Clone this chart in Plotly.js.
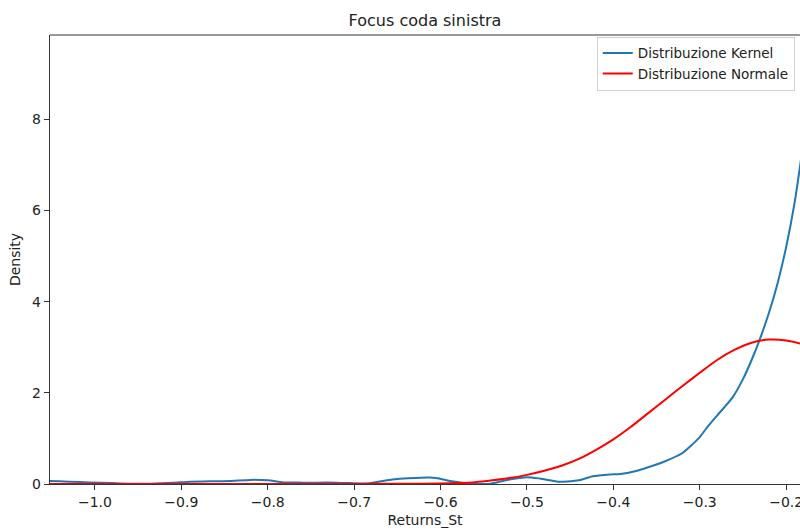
<!DOCTYPE html>
<html>
<head>
<meta charset="utf-8">
<script src="https://cdn.plot.ly/plotly-3.0.1.min.js"></script>
<style>
  html, body { margin: 0; padding: 0; background: #fff; overflow: hidden; }
  #chart { width: 800px; height: 530px; }
</style>
</head>
<body>
<div id="chart"></div>
<script>
// Kernel density estimate of standardised returns (left tail)
const kernelX = [-1.07, -1.052, -1.03, -1.006, -0.98, -0.96, -0.936, -0.91, -0.89, -0.865, -0.844, -0.82, -0.80,
  -0.782, -0.76, -0.743, -0.72, -0.705, -0.682, -0.667, -0.65, -0.63, -0.612, -0.597, -0.589, -0.566,
  -0.543, -0.523, -0.50, -0.485, -0.462, -0.44, -0.424, -0.404, -0.392, -0.375, -0.358, -0.34, -0.32,
  -0.308, -0.30, -0.292, -0.28, -0.262, -0.25, -0.24, -0.23, -0.22, -0.21, -0.20, -0.19, -0.18, -0.17];
const kernelY = [0.07, 0.066, 0.05, 0.035, 0.02, 0.008, 0.007, 0.025, 0.05, 0.06, 0.066, 0.09, 0.08,
  0.035, 0.03, 0.03, 0.03, 0.02, 0.015, 0.066, 0.11, 0.13, 0.14, 0.10, 0.066, 0.01,
  0.005, 0.09, 0.15, 0.12, 0.05, 0.08, 0.17, 0.21, 0.22, 0.28, 0.38, 0.5, 0.68,
  0.88, 1.03, 1.23, 1.5, 1.9, 2.3, 2.72, 3.2, 3.75, 4.4, 5.2, 6.2, 7.5, 8.9];

// Fitted normal density
const normalX = [-1.07, -1.0, -0.9, -0.8, -0.7, -0.64, -0.60, -0.58, -0.56, -0.54, -0.52, -0.50, -0.48,
  -0.46, -0.44, -0.42, -0.40, -0.38, -0.36, -0.34, -0.32, -0.30, -0.28, -0.26, -0.24, -0.22, -0.20,
  -0.18, -0.16];
const normalY = [0, 0, 0, 0, 0.002, 0.005, 0.01, 0.02, 0.04, 0.08, 0.13, 0.2, 0.29,
  0.4, 0.55, 0.75, 0.98, 1.25, 1.55, 1.85, 2.15, 2.44, 2.72, 2.94, 3.1, 3.17, 3.15,
  3.06, 2.9];

const seriesNames = ['Distribuzione Kernel', 'Distribuzione Normale'];
const xTicks = [-1.0, -0.9, -0.8, -0.7, -0.6, -0.5, -0.4, -0.3, -0.2];
const yTicks = [0, 2, 4, 6, 8];

const font = { family: 'DejaVu Sans, sans-serif', size: 14, color: '#222' };

const traces = [
  { x: kernelX, y: kernelY, name: seriesNames[0], mode: 'lines',
    line: { color: '#1f77b4', width: 2, shape: 'spline', smoothing: 0.6 } },
  { x: normalX, y: normalY, name: seriesNames[1], mode: 'lines',
    line: { color: '#ff0000', width: 2, shape: 'spline', smoothing: 0.6 } }
];

const layout = {
  width: 800, height: 530,
  margin: { l: 50, r: 0, t: 35, b: 46 },
  paper_bgcolor: '#fff', plot_bgcolor: '#fff',
  font: font,
  title: { text: 'Focus coda sinistra', x: 0.5, xref: 'paper', y: 0.962, yanchor: 'middle',
    font: { family: font.family, size: 16, color: '#222' } },
  showlegend: true,
  legend: {
    x: 0.993, xanchor: 'right', y: 0.996, yanchor: 'top',
    bgcolor: 'rgba(255,255,255,0.9)', bordercolor: '#d0d0d0', borderwidth: 1,
    font: { family: font.family, size: 13.5, color: '#222' },
    tracegroupgap: 0
  },
  xaxis: {
    range: [-1.052, -0.184],
    tickvals: xTicks, tickformat: '.1f',
    ticks: 'outside', ticklen: 5, tickwidth: 1, tickcolor: '#333',
    ticklabeloverflow: 'allow',
    showline: true, linecolor: '#333', linewidth: 1.2,
    showgrid: false, zeroline: false,
    title: { text: 'Returns_St', standoff: 6, font: { family: font.family, size: 14, color: '#222' } }
  },
  yaxis: {
    range: [0, 9.85],
    tickvals: yTicks,
    ticks: 'outside', ticklen: 5, tickwidth: 1, tickcolor: '#333',
    showline: true, linecolor: '#333', linewidth: 1.2,
    showgrid: false, zeroline: false,
    title: { text: 'Density', standoff: 8, font: { family: font.family, size: 14, color: '#222' } }
  },
  shapes: [
    { type: 'line', xref: 'paper', yref: 'paper', x0: 0, x1: 1, y0: 1, y1: 1,
      line: { color: '#333', width: 1.2 } }
  ]
};

Plotly.newPlot('chart', traces, layout, { staticPlot: true, displayModeBar: false });
</script>
</body>
</html>
